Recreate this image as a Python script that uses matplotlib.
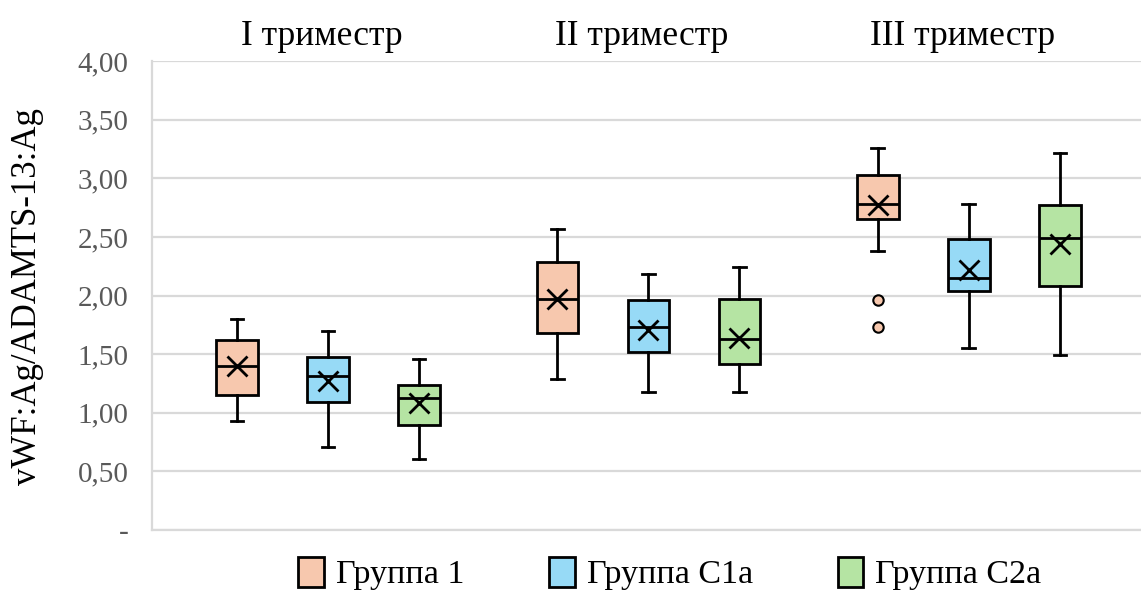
import matplotlib
matplotlib.use("Agg")
import matplotlib.pyplot as plt
from matplotlib.patches import Patch
from matplotlib.ticker import FixedLocator, FuncFormatter

plt.rcParams["font.family"] = ["Liberation Serif", "DejaVu Serif"]

trimesters = ["I триместр", "II триместр", "III триместр"]
groups = ["Группа 1", "Группа C1a", "Группа C2a"]
colors = ["#F7C8AE", "#97DAF6", "#B5E4A3"]

# Five-number summaries per trimester (rows) and group (columns)
whis_low = [[0.93, 0.71, 0.61], [1.29, 1.18, 1.18], [2.38, 1.55, 1.49]]
q1 = [[1.15, 1.09, 0.90], [1.68, 1.52, 1.42], [2.65, 2.04, 2.08]]
median = [[1.40, 1.31, 1.13], [1.97, 1.73, 1.63], [2.78, 2.15, 2.49]]
q3 = [[1.62, 1.48, 1.24], [2.29, 1.96, 1.97], [3.03, 2.48, 2.77]]
whis_high = [[1.80, 1.70, 1.46], [2.57, 2.18, 2.24], [3.26, 2.78, 3.22]]
mean = [[1.40, 1.27, 1.08], [1.97, 1.71, 1.64], [2.77, 2.22, 2.44]]
outliers = [[[], [], []], [[], [], []], [[1.96, 1.73], [], []]]

y_ticks = [0, 0.5, 1.0, 1.5, 2.0, 2.5, 3.0, 3.5, 4.0]

fig = plt.figure(figsize=(11.41, 5.90), dpi=100)
ax = fig.add_axes([0.1332, 0.1017, 0.8668, 0.7946])

offset = 0.284
width = 0.13
for t in range(len(trimesters)):
    for g in range(len(groups)):
        stats = [dict(med=median[t][g], q1=q1[t][g], q3=q3[t][g],
                      whislo=whis_low[t][g], whishi=whis_high[t][g],
                      mean=mean[t][g], fliers=outliers[t][g])]
        pos = t + (g - 1) * offset
        ax.bxp(stats, positions=[pos], widths=width, patch_artist=True,
               showmeans=True, showfliers=True, manage_ticks=False,
               boxprops=dict(facecolor=colors[g], edgecolor="black", linewidth=2.0),
               medianprops=dict(color="black", linewidth=2.0),
               whiskerprops=dict(color="black", linewidth=2.0),
               capprops=dict(color="black", linewidth=2.0),
               capwidths=0.04,
               meanprops=dict(marker="x", markeredgecolor="black", markersize=15,
                              markeredgewidth=2.0),
               flierprops=dict(marker="o", markerfacecolor=colors[g],
                               markeredgecolor="black", markersize=7.5,
                               markeredgewidth=1.5))
    ax.text(t - 0.02, 4.21, trimesters[t], ha="center", va="center",
            fontsize=25.5, color="black", clip_on=False)

ax.set_xlim(-0.549, 2.537)
ax.set_ylim(0, 4.0)
ax.yaxis.set_major_locator(FixedLocator(y_ticks))
ax.yaxis.set_major_formatter(FuncFormatter(
    lambda v, p: "-" if v == 0 else f"{v:.2f}".replace(".", ",")))
ax.tick_params(axis="y", length=0, pad=17, labelsize=21, labelcolor="#595959")
ax.tick_params(axis="x", bottom=False, labelbottom=False)
ax.grid(axis="y", color="#D9D9D9", linewidth=1.6)
ax.set_axisbelow(True)
for side in ("top", "right"):
    ax.spines[side].set_visible(False)
for side in ("left", "bottom"):
    ax.spines[side].set_color("#D9D9D9")
    ax.spines[side].set_linewidth(1.6)

fig.text(0.024, 0.498, "vWF:Ag/ADAMTS-13:Ag", rotation=90, ha="center",
         va="center", fontsize=25, color="black")

handles = [Patch(facecolor=c, edgecolor="black", linewidth=2.0) for c in colors]
fig.legend(handles, groups, loc="center", bbox_to_anchor=(0.587, 0.028),
           ncol=3, frameon=False, fontsize=24.5, handlelength=0.75,
           handleheight=1.0, columnspacing=2.5, handletextpad=0.35)

fig.savefig("out.png", dpi=100)
